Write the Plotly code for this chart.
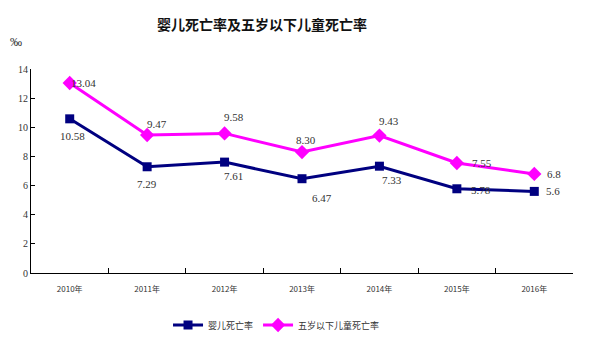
import plotly.graph_objects as go

# Data
years = ["2010年", "2011年", "2012年", "2013年", "2014年", "2015年", "2016年"]
infant_rate = [10.58, 7.29, 7.61, 6.47, 7.33, 5.78, 5.6]
under5_rate = [13.04, 9.47, 9.58, 8.30, 9.43, 7.55, 6.8]
infant_text = ["10.58", "7.29", "7.61", "6.47", "7.33", "5.78", "5.6"]
under5_text = ["13.04", "9.47", "9.58", "8.30", "9.43", "7.55", "6.8"]
y_ticks = [0, 2, 4, 6, 8, 10, 12, 14]

# Label offsets in pixels (dx, dy), dy positive upward
infant_off = [(3, -17), (0, -17), (9, -14), (20, -19), (13, -14), (24, -1), (19, 0)]
under5_off = [(14, 0), (10, 11), (9, 16), (4, 12), (10, 15), (25, 0), (20, 0)]

NAVY = "#000080"
MAGENTA = "#FF00FF"
num_font = dict(family="Liberation Serif, serif", size=11, color="#333333")

fig = go.Figure()
fig.add_trace(go.Scatter(
    x=years, y=infant_rate, name="婴儿死亡率", mode="lines+markers",
    line=dict(color=NAVY, width=3),
    marker=dict(symbol="square", size=9, color=NAVY),
))
fig.add_trace(go.Scatter(
    x=years, y=under5_rate, name="五岁以下儿童死亡率", mode="lines+markers",
    line=dict(color=MAGENTA, width=3),
    marker=dict(symbol="diamond", size=11, color=MAGENTA),
))

annotations = []
for xs, ys, texts, offs in ((years, infant_rate, infant_text, infant_off),
                            (years, under5_rate, under5_text, under5_off)):
    for x, y, t, (dx, dy) in zip(xs, ys, texts, offs):
        annotations.append(dict(x=x, y=y, text=t, showarrow=False,
                                xshift=dx, yshift=dy, font=num_font))

# Unit label above the value axis
annotations.append(dict(x=-0.028, y=1.13, xref="paper", yref="paper", text="‰",
                        showarrow=False, xanchor="center", yanchor="middle",
                        font=dict(family="Liberation Serif, serif", size=12, color="#333333")))

fig.update_layout(
    width=600, height=345,
    margin=dict(l=31, r=27, t=69, b=72, autoexpand=False),
    paper_bgcolor="white", plot_bgcolor="white",
    title=dict(text="<b>婴儿死亡率及五岁以下儿童死亡率</b>", x=262 / 600, xanchor="center",
               y=1 - 25 / 345, yanchor="middle",
               font=dict(family="Noto Sans CJK SC", size=14, color="#111111")),
    showlegend=True,
    legend=dict(orientation="h", x=0.453, xanchor="center", y=-0.255, yanchor="middle",
                font=dict(family="Noto Sans CJK SC", size=9, color="#333333"),
                itemwidth=30, tracegroupgap=0),
    annotations=annotations,
)
fig.update_xaxes(
    type="category", range=[-0.5, 6.5], showgrid=False, automargin=False,
    showline=True, linecolor="black", linewidth=1,
    ticks="inside", tickson="boundaries", ticklen=5, tickcolor="black",
    ticklabelstandoff=8,
    tickfont=dict(family="Noto Sans CJK SC", size=8, color="#333333"),
)
fig.update_yaxes(
    range=[0, 14], tickvals=y_ticks, showgrid=False, zeroline=False, automargin=False,
    showline=True, linecolor="black", linewidth=1,
    ticks="inside", ticklen=4, tickcolor="black",
    tickfont=dict(family="Liberation Serif, serif", size=10, color="#333333"),
)

fig.write_html("out.html")
